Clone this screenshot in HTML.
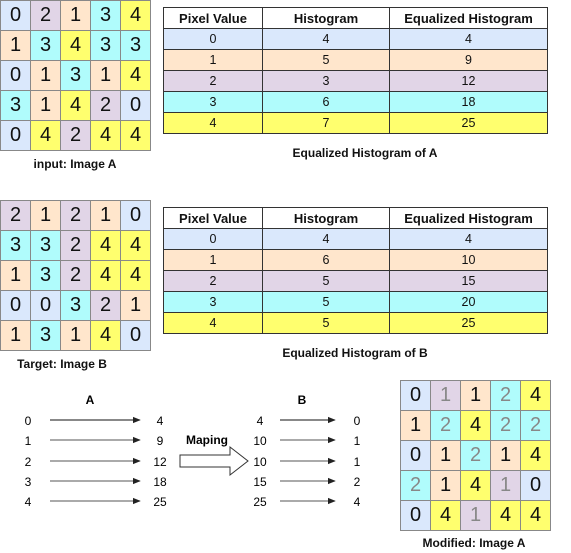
<!DOCTYPE html>
<html><head><meta charset="utf-8"><style>
body{margin:0;width:571px;height:553px;background:#fff;font-family:"Liberation Sans",sans-serif;position:relative;overflow:hidden}
.grid{position:absolute;border-collapse:collapse}
.grid td{width:29px;height:29px;border:1px solid #888;text-align:center;font-size:20px;padding:0;color:#111}
.t{position:absolute;border-collapse:collapse;font-size:12.5px;color:#111}
.t td,.t th{border:1px solid #333;text-align:center;padding:0;height:20px}
.t th{background:#fff;font-weight:bold;font-size:13px}
.c0{background:#dae8fc}.c1{background:#ffe6cc}.c2{background:#e1d5e7}.c3{background:#b0fcfc}.c4{background:#ffff6e}
.cap{position:absolute;font-weight:bold;font-size:12px;color:#111;white-space:nowrap;transform:translateX(-50%)}
.g{color:#888 !important}
</style></head><body>
<table class="grid" style="left:0;top:0">
<tr><td class="c0">0</td><td class="c2">2</td><td class="c1">1</td><td class="c3">3</td><td class="c4">4</td></tr>
<tr><td class="c1">1</td><td class="c3">3</td><td class="c4">4</td><td class="c3">3</td><td class="c3">3</td></tr>
<tr><td class="c0">0</td><td class="c1">1</td><td class="c3">3</td><td class="c1">1</td><td class="c4">4</td></tr>
<tr><td class="c3">3</td><td class="c1">1</td><td class="c4">4</td><td class="c2">2</td><td class="c0">0</td></tr>
<tr><td class="c0">0</td><td class="c4">4</td><td class="c2">2</td><td class="c4">4</td><td class="c4">4</td></tr>
</table>
<div class="cap" style="left:75px;top:157px">input: Image A</div>

<table class="t" style="left:163px;top:7px;width:385px">
<tr><th style="width:98px">Pixel Value</th><th style="width:126px">Histogram</th><th>Equalized Histogram</th></tr>
<tr class="c0"><td>0</td><td>4</td><td>4</td></tr>
<tr class="c1"><td>1</td><td>5</td><td>9</td></tr>
<tr class="c2"><td>2</td><td>3</td><td>12</td></tr>
<tr class="c3"><td>3</td><td>6</td><td>18</td></tr>
<tr class="c4"><td>4</td><td>7</td><td>25</td></tr>
</table>
<div class="cap" style="left:365px;top:146px">Equalized Histogram of A</div>

<table class="grid" style="left:0;top:200px">
<tr><td class="c2">2</td><td class="c1">1</td><td class="c2">2</td><td class="c1">1</td><td class="c0">0</td></tr>
<tr><td class="c3">3</td><td class="c3">3</td><td class="c2">2</td><td class="c4">4</td><td class="c4">4</td></tr>
<tr><td class="c1">1</td><td class="c3">3</td><td class="c2">2</td><td class="c4">4</td><td class="c4">4</td></tr>
<tr><td class="c0">0</td><td class="c0">0</td><td class="c3">3</td><td class="c2">2</td><td class="c1">1</td></tr>
<tr><td class="c1">1</td><td class="c3">3</td><td class="c1">1</td><td class="c4">4</td><td class="c0">0</td></tr>
</table>
<div class="cap" style="left:62px;top:357px">Target: Image B</div>

<table class="t" style="left:163px;top:207px;width:385px">
<tr><th style="width:98px">Pixel Value</th><th style="width:126px">Histogram</th><th>Equalized Histogram</th></tr>
<tr class="c0"><td>0</td><td>4</td><td>4</td></tr>
<tr class="c1"><td>1</td><td>6</td><td>10</td></tr>
<tr class="c2"><td>2</td><td>5</td><td>15</td></tr>
<tr class="c3"><td>3</td><td>5</td><td>20</td></tr>
<tr class="c4"><td>4</td><td>5</td><td>25</td></tr>
</table>
<div class="cap" style="left:355px;top:346px">Equalized Histogram of B</div>

<svg style="position:absolute;left:0;top:380px" width="390" height="140" font-family="Liberation Sans, sans-serif" font-size="12">
<defs><marker id="ah" viewBox="0 0 10 10" refX="9" refY="5" markerWidth="8" markerHeight="8" orient="auto"><path d="M0,1L10,5L0,9z" fill="#222"/></marker></defs>
<text x="90" y="24" font-weight="bold" text-anchor="middle">A</text>
<text x="302" y="24" font-weight="bold" text-anchor="middle">B</text>
<g>
<text x="28" y="45" text-anchor="middle">0</text><line x1="50" y1="40" x2="140" y2="40" stroke="#111" marker-end="url(#ah)"/><text x="160" y="45" text-anchor="middle">4</text>
<text x="28" y="65" text-anchor="middle">1</text><line x1="50" y1="60" x2="140" y2="60" stroke="#555" marker-end="url(#ah)"/><text x="160" y="65" text-anchor="middle">9</text>
<text x="28" y="86" text-anchor="middle">2</text><line x1="50" y1="81" x2="140" y2="81" stroke="#555" marker-end="url(#ah)"/><text x="160" y="86" text-anchor="middle">12</text>
<text x="28" y="106" text-anchor="middle">3</text><line x1="50" y1="101" x2="140" y2="101" stroke="#555" marker-end="url(#ah)"/><text x="160" y="106" text-anchor="middle">18</text>
<text x="28" y="126" text-anchor="middle">4</text><line x1="50" y1="121" x2="140" y2="121" stroke="#555" marker-end="url(#ah)"/><text x="160" y="126" text-anchor="middle">25</text>
</g>
<text x="186" y="64" font-weight="bold">Maping</text>
<path d="M180,75H230V67L248,81L230,95V87H180Z" fill="#fff" stroke="#333"/>
<g>
<text x="260" y="45" text-anchor="middle">4</text><line x1="280" y1="40" x2="335" y2="40" stroke="#111" marker-end="url(#ah)"/><text x="357" y="45" text-anchor="middle">0</text>
<text x="260" y="65" text-anchor="middle">10</text><line x1="280" y1="60" x2="335" y2="60" stroke="#555" marker-end="url(#ah)"/><text x="357" y="65" text-anchor="middle">1</text>
<text x="260" y="86" text-anchor="middle">10</text><line x1="280" y1="81" x2="335" y2="81" stroke="#555" marker-end="url(#ah)"/><text x="357" y="86" text-anchor="middle">1</text>
<text x="260" y="106" text-anchor="middle">15</text><line x1="280" y1="101" x2="335" y2="101" stroke="#555" marker-end="url(#ah)"/><text x="357" y="106" text-anchor="middle">2</text>
<text x="260" y="126" text-anchor="middle">25</text><line x1="280" y1="121" x2="335" y2="121" stroke="#555" marker-end="url(#ah)"/><text x="357" y="126" text-anchor="middle">4</text>
</g>
</svg>

<table class="grid" style="left:400px;top:380px">
<tr><td class="c0">0</td><td class="c2 g">1</td><td class="c1">1</td><td class="c3 g">2</td><td class="c4">4</td></tr>
<tr><td class="c1">1</td><td class="c3 g">2</td><td class="c4">4</td><td class="c3 g">2</td><td class="c3 g">2</td></tr>
<tr><td class="c0">0</td><td class="c1">1</td><td class="c3 g">2</td><td class="c1">1</td><td class="c4">4</td></tr>
<tr><td class="c3 g">2</td><td class="c1">1</td><td class="c4">4</td><td class="c2 g">1</td><td class="c0">0</td></tr>
<tr><td class="c0">0</td><td class="c4">4</td><td class="c2 g">1</td><td class="c4">4</td><td class="c4">4</td></tr>
</table>
<div class="cap" style="left:474px;top:536px">Modified: Image A</div>
</body></html>
